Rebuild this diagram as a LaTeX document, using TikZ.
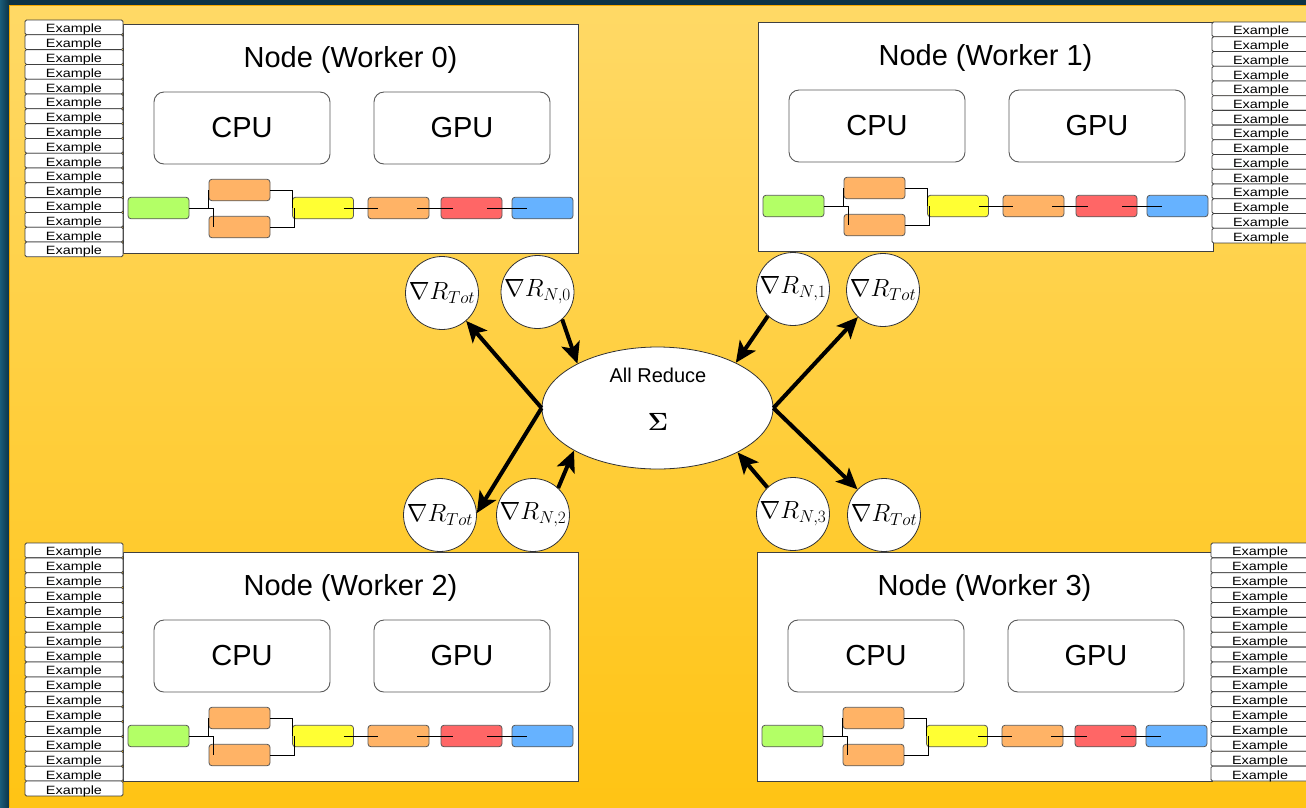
\documentclass[tikz,border=0pt]{standalone}
\usepackage[no-math]{fontspec}
\setmainfont{Liberation Sans}
\usetikzlibrary{shapes.geometric,arrows.meta}
\definecolor{bgdark}{HTML}{0C3346}
\definecolor{bgleft}{HTML}{1A5C7A}
\definecolor{ytop}{HTML}{FFD966}
\definecolor{ybot}{HTML}{FFC414}
\definecolor{yedge}{HTML}{F5A800}
\definecolor{pgreen}{HTML}{B3FF66}
\definecolor{porange}{HTML}{FFB366}
\definecolor{pyellow}{HTML}{FFFF33}
\definecolor{pred}{HTML}{FF6666}
\definecolor{pblue}{HTML}{66B2FF}
\tikzset{
  nodebox/.style={draw=black!75, fill=white, line width=1pt, minimum width=455pt, minimum height=229pt, inner sep=0pt},
  titletext/.style={font=\fontsize{29}{34}\selectfont, inner sep=0pt},
  unit/.style={draw=black!65, fill=white, line width=0.9pt, rounded corners=10pt, minimum width=176pt, minimum height=72pt, inner sep=0pt, font=\fontsize{29}{34}\selectfont},
  pipe/.style={draw=black!65, line width=0.8pt, rounded corners=3pt, minimum width=61pt, minimum height=21.5pt, inner sep=0pt},
  conn/.style={draw=black, line width=0.8pt},
  exrow/.style={draw=black!75, fill=white, line width=0.8pt, rounded corners=1.5pt, minimum width=98pt, inner sep=0pt, text height=11pt, text depth=0pt, font=\fontsize{12}{12}\selectfont},
  grad/.style={circle, draw=black!80, fill=white, line width=0.8pt, minimum size=73pt, inner sep=0pt, font=\fontsize{25}{30}\selectfont},
  bigarrow/.style={line width=4pt, -{Stealth[length=21pt,width=19pt,inset=5pt]}},
}
\newcommand{\worker}[4]{%
\begin{scope}[shift={(#2,#3)}]
\node[nodebox, anchor=north west] (#1box) at (0,0) {};
\node[titletext] (#1title) at (227.5,36) {Node (Worker #4)};
\node[unit] (#1cpu) at (119,104) {CPU};
\node[unit] (#1gpu) at (339,104) {GPU};
\node[pipe, fill=pgreen] (#1g) at (35.5,184) {};
\node[pipe, fill=porange] (#1ot) at (116.5,166) {};
\node[pipe, fill=porange] (#1ob) at (116.5,203) {};
\node[pipe, fill=pyellow] (#1y) at (200,184) {};
\node[pipe, fill=porange] (#1o) at (275.5,184) {};
\node[pipe, fill=pred] (#1r) at (348.5,184) {};
\node[pipe, fill=pblue] (#1b) at (419.5,184) {};
\draw[conn] (#1g.east) -| (#1ot.west);
\draw[conn] (#1g.east) -| ([xshift=5pt]#1ob.west);
\draw[conn] (#1ot.east) -| (#1y.west);
\draw[conn] (#1ob.east) -| ([xshift=2pt]#1y.west);
\draw[conn] ([xshift=-10pt]#1y.east) -- ([xshift=10pt]#1o.west);
\draw[conn] ([xshift=-12pt]#1o.east) -- ([xshift=12pt]#1r.west);
\draw[conn] ([xshift=-15pt]#1r.east) -- ([xshift=15pt]#1b.west);
\end{scope}}
\newcommand{\exlist}[5]{%
\foreach \i in {1,...,#4}{%
\node[exrow, minimum height=#5pt] (#1\i) at ({#2+49},{#3+(\i-0.5)*#5}) {\scalebox{1.2}[1]{Example}};}}
\begin{document}
\begin{tikzpicture}[x=1pt,y=-1pt]
\useasboundingbox (0,0) rectangle (1306,807);
% background
\fill[bgdark] (0,0) rectangle (1306,807);
\fill[left color=bgleft, right color=bgdark] (0,0) rectangle (9,807);
\fill[top color=ytop, bottom color=ybot] (9,5) rectangle (1306,807);
\draw[yedge, line width=1.5pt] (9.5,807) -- (9.5,5.5) -- (1306,5.5);
% workers
\worker{wa}{123}{24}{0}
\worker{wb}{758}{22}{1}
\worker{wc}{123}{552}{2}
\worker{wd}{757}{552}{3}
% example lists
\exlist{la}{25}{20}{16}{14.8}
\exlist{lb}{1212}{22}{15}{14.73}
\exlist{lc}{25}{543}{17}{14.88}
\exlist{ld}{1211}{543}{16}{14.875}
% all reduce
\node[ellipse, draw=black!80, fill=white, line width=0.8pt, minimum width=231pt, minimum height=122pt, inner sep=0pt] (ell) at (657.5,408) {};
\node[font=\fontsize{20}{24}\selectfont, inner sep=0pt] (allred) at (658,375) {All Reduce};
\node[font=\fontsize{24}{28}\selectfont, inner sep=0pt] (sigma) at (658,422) {$\mathbf{\Sigma}$};
% gradient circles
\node[grad] (cT0) at (442,293) {$\nabla R_{Tot}$};
\node[grad] (cN0) at (537.5,292) {$\nabla R_{N,0}$};
\node[grad] (cN1) at (793,289) {$\nabla R_{N,1}$};
\node[grad] (cT1) at (883,290) {$\nabla R_{Tot}$};
\node[grad] (cT2) at (440,515) {$\nabla R_{Tot}$};
\node[grad] (cN2) at (533,515) {$\nabla R_{N,2}$};
\node[grad] (cN3) at (793,514) {$\nabla R_{N,3}$};
\node[grad] (cT3) at (884,515) {$\nabla R_{Tot}$};
% arrows
\draw[bigarrow] (ell.west) -- (cT0);
\draw[bigarrow] (ell.west) -- (cT2.3);
\draw[bigarrow] (ell.east) -- (cT1);
\draw[bigarrow] (ell.east) -- (cT3);
\draw[bigarrow] (cN0.-48) -- (ell.151);
\draw[bigarrow] (cN1.227) -- (ell.30);
\draw[bigarrow] (cN2.47) -- (ell.207);
\draw[bigarrow] (cN3.134) -- (ell.331);
\end{tikzpicture}
\end{document}
